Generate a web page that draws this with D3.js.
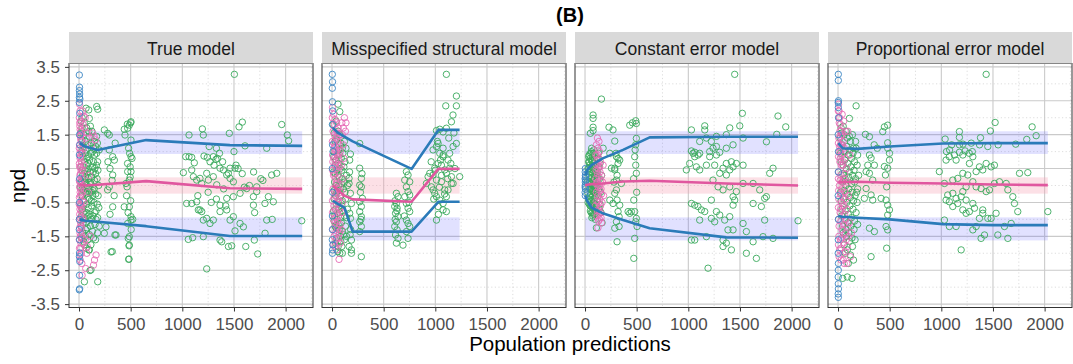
<!DOCTYPE html>
<html><head><meta charset="utf-8">
<script src="https://cdn.jsdelivr.net/npm/d3@7"></script>
<style>body{margin:0;background:#fff}svg{display:block}text{font-family:"Liberation Sans",Arial,sans-serif}</style>
</head><body><svg id="c" width="1073" height="364"></svg>
<script>
const panelTitles = ["True model","Misspecified structural model","Constant error model","Proportional error model"];
const xTicks = [0,500,1000,1500,2000];
const xMinor = [250,750,1250,1750,2250];
const yTicks = [3.5,2.5,1.5,0.5,-0.5,-1.5,-2.5,-3.5];
const yMinor = [3,2,1,0,-1,-2,-3];
const bandUpper = [0.93,1.6];
const bandMedian = [-0.24,0.24];
const bandLower = [-1.62,-0.94];

// ---- True model ----
const trueBins = [5,60,180,650,1460,2160];
const trueUpper = [1.25,1.15,1.05,1.34,1.19,1.17];
const trueMedian = [0.04,0.0,0.02,0.13,-0.08,-0.1];
const trueLower = [-1.0,-1.04,-1.07,-1.2,-1.49,-1.49];
const trueGreen = [[1504,3.28],[1581,1.87],[1549,1.73],[1962,1.8],[1194,1.67],[1065,1.49],[1203,1.49],[1455,1.54],[2016,1.49],[1500,1.0],[1607,1.17],[1817,1.1],[2029,1.32],[1033,0.85],[1065,0.85],[1091,0.83],[1116,0.67],[1210,0.87],[1242,0.83],[1268,0.7],[1300,0.85],[1326,0.77],[1307,0.6],[1010,0.38],
[1091,0.46],[1107,0.26],[1139,0.16],[1171,0.21],[1188,0.06],[1236,0.36],[1252,0.16],[1300,0.26],[1333,0.02],[1365,0.51],[1397,0.46],[1430,0.31],[1446,0.36],[1462,0.21],[1494,0.11],[1510,0.51],[1462,0.51],
[1720,-0.04],[1623,-0.09],[1720,-0.18],[1833,-0.33],[1914,0.36],[1865,0.31],[1881,-0.48],[1688,-0.58],[1800,-0.53],[1688,-0.33],[1559,-0.23],[1494,-0.33],[1430,-0.38],
[1042,-0.53],[1091,-0.53],[1139,-0.48],[1155,-0.72],[1171,-0.72],[1188,-0.77],[1203,-1.02],[1236,-0.97],[1268,-1.12],[1300,-1.02],[1365,-0.58],[1365,-0.77],[1430,-0.72],[1462,-1.02],[1494,-0.92],[1559,-1.12],[1591,-1.22],[1817,-1.02],[2156,-1.04],
[1260,1.15],[1330,1.1],[1360,0.95],[1340,0.8],[1390,0.7],[1520,0.6],[1540,0.5],[1580,0.35],[1690,0.4],[1760,0.2],[1780,0.15],[1600,-0.05],[1650,0.0],[1400,-0.1],[1250,-0.2],[1150,-0.3],[1330,-0.4],[1280,-0.5],[1420,-0.6],[1700,-0.8],[1870,-1.0],
[1058,-1.59],[1100,-1.54],[1203,-1.51],[1365,-1.61],[1381,-1.66],[1446,-1.8],[1478,-1.78],[1236,-2.46],[1510,-1.34],[1614,-1.8],[1697,-1.61],[1730,-2.02],[1801,-1.41],
[503,1.88],[487,1.78],[471,1.69],[438,1.66],[503,1.34],[468,1.81],[500,1.85],[445,1.49],[503,0.85],[513,0.8],[471,0.41],[503,0.41],[487,0.16],[455,0.06],[465,-0.04],[438,-0.63],[487,-0.63],[503,-0.92],[503,-1.02],[520,-1.0],[471,-1.12],[487,-1.51],[487,-1.76],[481,-2.18],[477,-1.56],[484,-1.78],[484,-2.17],
[300,0.5],[320,0.15],[340,-0.3],[300,-0.85],[350,1.25],[280,0.7],[480,1.1],[490,0.95],[470,0.65],[495,0.25],[460,-0.3],[500,-0.45],[475,-0.8],[505,-1.3],[495,0.55],
[293,1.49],[277,1.54],[245,1.64],[326,0.85],[342,0.75],[293,1.05],[326,0.31],[293,-0.04],[277,-0.13],[326,-0.63],[358,-1.46],[310,-1.96],[245,-1.41],[261,-1.22],[322,-1.95],[348,-1.46],
[181,2.25],[94,2.23],[100,1.98],[68,2.28],[171,2.33],[181,-2.84],[52,-2.84],[116,-2.49],[100,-1.9],[106,-2.51],
[20,1.9],[30,1.7],[45,1.5],[60,1.3],[85,1.2],[100,1.45],[120,1.25],[140,1.1],[150,0.9],[170,0.95],[180,0.7],[25,1.0],[40,0.85],[55,0.7],[70,0.6],[90,0.5],[110,0.4],[130,0.55],[160,0.35],[175,0.2],[35,0.3],[50,0.2],[65,0.1],[80,0.0],[95,-0.1],[115,0.05],[135,-0.15],[150,0.15],[190,0.0],[30,-0.3],[45,-0.45],[60,-0.2],[75,-0.55],[100,-0.4],[120,-0.6],[145,-0.5],[165,-0.75],[185,-0.3],[25,-0.9],[40,-0.8],[55,-1.0],[70,-1.1],[90,-0.9],[110,-1.2],[130,-1.35],[155,-1.15],[180,-1.4],[35,-1.4],[60,-1.5],[85,-1.6],[50,-1.75],[95,-1.9],[120,-0.2],[140,0.7],[60,0.45],[20,0.1],[30,-0.1],[85,0.85],[65,1.05],[125,1.6],[170,1.45],
[15,1.55],[28,1.35],[42,1.15],[58,0.95],[72,0.8],[88,0.65],[102,0.75],[118,0.95],[132,1.0],[148,1.3],[162,1.15],[178,1.25],[195,1.05],[18,0.55],[33,0.45],[48,0.35],[63,0.25],[78,0.4],[93,0.2],[108,0.1],[123,0.25],[138,0.4],[153,0.5],[168,0.6],[183,0.45],[12,-0.05],[27,0.05],[42,-0.15],[57,-0.05],[72,-0.25],[87,-0.35],[102,-0.2],[117,-0.45],[132,-0.3],[147,-0.1],[162,-0.25],[177,-0.55],[192,-0.65],[15,-0.6],[30,-0.7],[45,-0.6],[60,-0.85],[75,-0.8],[90,-0.65],[105,-0.85],[120,-1.0],[135,-0.9],[150,-0.8],[165,-1.0],[180,-0.95],[20,-1.2],[40,-1.1],[65,-1.3],[80,-1.25],[100,-1.45],[140,-1.55],[160,-1.6],[195,-1.2],[25,-1.55],[45,-1.65],[70,-1.85],[115,-1.75],[30,2.0],[50,1.85],[75,1.7],[95,1.6],[110,1.75]];
const truePink = [[5,2.4],[10,2.2],[15,1.9],[8,1.75],[20,1.6],[12,1.45],[25,1.3],[5,1.2],[18,1.05],[30,0.95],[10,0.8],[22,0.7],[6,0.55],[35,0.45],[14,0.35],[28,0.2],[8,0.1],[40,0.0],[16,-0.1],[24,-0.25],[4,-0.35],[32,-0.45],[12,-0.6],[20,-0.75],[7,-0.85],[36,-0.95],[15,-1.1],[26,-1.25],[9,-1.4],[30,-1.55],[18,-1.7],[5,-1.85],[22,-2.0],[12,-2.2],[30,-2.65],[130,1.55],[145,1.45],[160,1.35],[150,-2.2],[165,-2.05],[140,-2.35],[55,1.7],[70,1.4],[60,-1.6],[80,-1.8],[45,0.6],[50,-0.5],[120,1.2],[110,-1.5],[90,-0.2],[100,0.3],
[3,2.0],[7,1.85],[11,1.65],[14,1.5],[17,1.35],[3,1.1],[9,0.95],[13,0.85],[4,0.65],[16,0.55],[20,0.45],[9,0.3],[3,0.15],[19,0.05],[6,-0.05],[11,-0.2],[14,-0.3],[2,-0.55],[18,-0.55],[9,-0.7],[27,-0.65],[4,-1.0],[12,-0.95],[21,-1.2],[6,-1.25],[13,-1.5],[24,-1.45],[3,-1.6],[16,-1.85],[8,-2.05],[27,-2.3],[40,1.8],[45,1.1],[38,-1.0],[42,-1.7],[48,2.05],[35,2.2],[60,2.0],[80,1.55],[75,-2.0],[65,-2.45]];
const trueBlue = [[3,3.26],[5,2.9],[4,2.8],[6,2.7],[4,2.6],[8,2.55],[3,2.45],[7,2.13],[5,1.5],[4,0.9],[6,0.2],[5,-0.5],[4,-1.0],[6,-1.6],[5,-1.99],[4,-2.1],[7,-2.24],[5,-2.65],[6,-3.05],[3,-3.08],[8,1.2],[3,-1.3]];

// ---- Misspecified structural model ----
const misBins = [8,60,120,200,770,1030,1235];
const misUpper = [1.7,1.55,1.44,1.3,0.49,1.64,1.64];
const misMedian = [0.0,-0.15,-0.3,-0.41,-0.48,0.49,0.49];
const misLower = [-0.45,-0.55,-0.65,-1.36,-1.36,-0.48,-0.48];
const misGreen = [[1107,3.28],[1204,2.64],[1101,2.35],[1204,2.35],[1171,2.08],[1156,1.88],[1107,1.69],[1011,1.62],[1043,1.66],[1075,1.58],[1027,1.24],[1011,1.15],[1075,1.1],[1172,1.15],[1204,1.24],[978,1.05],[1075,0.9],[1139,0.95],
[946,0.36],[930,0.26],[914,0.06],[962,-0.04],[978,-0.13],[994,-0.23],[1011,-0.33],[1043,-0.43],[1027,-0.62],[1075,-0.72],[1107,-0.77],[1011,-1.02],[1059,0.11],[1091,0.46],[1107,0.36],[1139,0.51],[1156,0.26],[1172,0.06],[1123,0.75],[1075,0.85],[1043,0.95],[1027,0.65],[1059,0.6],[994,0.51],[978,0.31],[1156,0.06],[1123,-0.13],[1107,-0.33],[1075,-0.53],[1236,0.26],[1091,-0.13],[1011,0.16],[1000,0.45],[1060,0.3],[1120,0.2],[1040,-0.05],[1090,-0.25],[985,-0.4],[1030,-0.85],[1050,0.75],[1150,0.65],[960,0.7],[1190,0.5],[1020,1.3],[1130,1.4],[1180,1.55],
[623,-0.23],[639,-0.33],[623,-0.53],[607,-0.62],[630,-0.67],[615,-0.82],[639,-0.92],[623,-1.07],[607,-1.21],[630,-1.31],[615,-1.46],[639,-1.56],[623,-1.7],[720,0.41],[736,0.31],[704,0.16],[752,0.11],[720,-0.04],[736,-0.18],[752,-0.28],[704,-0.33],[720,-0.53],[736,-0.67],[752,-0.77],[720,-1.02],[736,-1.12],[752,-1.21],[720,-1.36],[736,-1.56],[687,-1.76],[610,-0.45],[628,-0.75],[612,-1.0],[745,-0.5],[700,-0.9],
[268,0.51],[284,0.21],[268,0.01],[284,-0.04],[294,-0.38],[268,-0.48],[284,-0.62],[268,-0.77],[284,-0.92],[268,-1.07],[284,-1.21],[268,-1.36],[284,-2.1],[178,-0.23],[188,-0.53],[171,-0.82],[178,-0.97],[188,-1.61],[165,-1.8],[188,-1.9],[188,-2.0],[178,0.93],[171,0.75],[165,0.21],[165,0.06],[268,1.24],[180,-1.3],[175,-1.45],[275,-0.2],[290,0.35],[280,-1.0],[170,0.4],
[58,2.4],[75,2.18],[40,1.9],[60,1.6],[30,1.3],[70,1.2],[20,1.0],[50,0.9],[90,0.8],[35,0.6],[80,0.5],[15,0.4],[55,0.3],[100,0.2],[25,0.1],[65,0.0],[110,-0.1],[45,-0.2],[85,-0.3],[20,-0.4],[60,-0.5],[95,-0.6],[35,-0.7],[75,-0.8],[120,-0.9],[50,-1.0],[90,-1.1],[30,-1.2],[70,-1.3],[110,-1.45],[45,-1.55],[85,-1.65],[60,-1.8],[100,-2.0],[130,-0.4],[140,0.3],[125,0.7],[130,-1.2],[150,-0.7],[40,0.0],[25,-0.9],[100,1.1],[75,1.5],[135,1.1],
[10,1.8],[20,1.55],[45,1.35],[65,1.05],[85,1.25],[105,0.95],[120,1.3],[15,0.85],[40,0.75],[60,0.65],[75,0.9],[95,0.45],[115,0.55],[30,0.35],[45,0.45],[70,0.25],[90,0.05],[120,0.1],[20,-0.15],[35,-0.3],[55,-0.15],[80,-0.05],[100,-0.45],[125,-0.2],[15,-0.75],[45,-0.55],[65,-0.7],[85,-0.95],[105,-0.75],[140,-0.95],[20,-1.05],[40,-1.25],[60,-1.15],[80,-1.5],[100,-1.35],[120,-1.6],[35,-1.7],[55,-1.95],[75,-2.0],[95,-1.8],[140,-1.5],[150,0.0]];
const misPink = [[5,2.3],[15,2.1],[30,1.95],[45,1.85],[60,1.7],[10,1.6],[25,1.5],[40,1.4],[55,1.3],[70,1.2],[20,1.1],[35,1.0],[50,0.9],[65,0.8],[8,0.7],[28,0.6],[45,0.5],[60,0.4],[15,0.3],[35,0.2],[50,0.1],[70,0.0],[10,-0.1],[25,-0.2],[40,-0.3],[55,-0.4],[65,-0.5],[18,-0.6],[32,-0.7],[48,-0.8],[62,-0.9],[12,-1.0],[28,-1.1],[42,-1.2],[58,-1.3],[72,-1.4],[20,-1.5],[38,-1.6],[52,-1.7],[30,-1.8],[68,-2.18],[80,1.0],[90,0.6],[85,-0.2],[95,-0.8],[100,1.5],[110,1.7],[105,0.2],[120,2.0],[135,1.85],[130,1.6],
[3,2.0],[22,1.8],[38,1.65],[50,1.55],[65,1.45],[4,1.3],[18,1.25],[32,1.15],[48,1.05],[62,0.95],[6,0.9],[22,0.8],[38,0.7],[54,0.6],[70,0.55],[5,0.45],[22,0.35],[40,0.05],[58,-0.1],[75,-0.3],[5,-0.45],[22,-0.35],[45,-0.55],[75,-0.7],[5,-0.8],[38,-0.95],[55,-1.05],[78,-1.15],[6,-1.3],[35,-1.4],[62,-1.55],[80,-1.7],[12,-1.75],[45,-1.9],[90,-1.3],[100,-0.5],[110,1.2],[95,1.85],[115,0.8]];
const misBlue = [[3,3.28],[5,3.06],[3,2.87],[4,2.47],[6,2.2],[4,1.8],[5,1.2],[3,0.5],[6,-0.2],[4,-0.9],[5,-1.3],[3,-1.6],[6,-1.9],[4,-2.0],[8,-1.75],[10,1.0]];

// ---- Constant error model ----
const conBins = [2,20,62,171,368,626,1368,2062];
const conUpper = [0.3,0.45,0.6,0.8,1.05,1.42,1.44,1.44];
const conMedian = [0.0,0.02,0.04,0.06,0.12,0.14,0.06,0.0];
const conLower = [-0.3,-0.45,-0.65,-0.82,-1.02,-1.26,-1.53,-1.54];
const conGreen = [[1449,3.28],[1030,1.64],[1159,1.76],[1159,1.64],[1401,1.7],[1498,1.76],[1523,2.13],[1868,2.05],[1943,1.73],[1856,1.51],[1756,1.29],[1110,1.3],[1175,1.4],[1272,1.45],[1368,1.5],[1433,1.2],[1530,1.4],[1368,1.1],[1272,1.15],[1223,1.3],[1030,1.02],[1062,0.98],[1110,0.95],[1207,1.0],[1239,1.1],[1304,0.98],
[981,0.46],[1013,0.65],[1046,0.95],[1062,0.85],[1078,0.55],[1094,0.9],[1110,0.46],[1175,0.6],[1207,0.85],[1255,0.6],[1272,0.9],[1304,0.36],[1336,0.51],[1368,0.65],[1401,0.46],[1417,0.7],[1433,0.55],[1465,0.65],[1530,0.6],[1368,0.31],[1239,0.16],[1288,-0.04],[1336,-0.13],[1401,-0.04],[1433,-0.33],[1465,-0.18],[1530,0.06],[1627,0.06],[1691,-0.13],[1756,-0.33],[1820,0.51],[1788,0.36],[1627,-0.53],[1707,-0.62],[1739,-0.38],[1030,-0.53],[1062,-0.58],[1094,-0.62],[1126,-0.72],[1159,-0.77],[1223,-0.43],[1272,-0.77],[1304,-0.87],[1352,-1.02],[1401,-0.92],[1433,-0.58],[1449,-0.43],[1530,-1.12],[1562,-1.36],[1433,-1.31],[1384,-1.31],[1336,-1.61],[1368,-1.7],[1417,-1.9],[1223,-0.97],[1255,-1.07],[1110,-1.02],[1030,-1.61],[1062,-1.61],[1175,-1.51],[1336,-1.8],[1191,-2.44],[1562,-2.0],[1627,-1.66],[1659,-2.15],[1723,-1.51],[2062,-1.04],[1820,-1.56],[1739,-1.02],
[288,0.51],[304,-0.13],[310,-0.43],[320,-0.77],[330,-0.92],[304,-1.07],[330,-1.21],[310,-1.66],[481,0.85],[491,0.6],[497,0.36],[472,-0.43],[481,-0.77],[497,-0.97],[491,-1.07],[504,-1.21],[481,-1.56],[472,-2.15],[449,-0.77],[417,-0.77],[433,-0.82],[288,-1.26],[232,1.72],[271,1.64],[433,1.78],[459,1.85],[491,1.91],[497,1.83],[497,1.39],[288,1.31],[300,0.95],[320,0.8],[310,0.3],[280,0.1],[490,1.2],[485,1.05],[470,0.2],[500,-0.2],[175,1.1],[240,0.95],[304,0.85],[320,0.65],[336,0.75],[288,0.46],[304,0.16],[352,0.06],[288,-0.23],[271,-0.53],[336,-0.58],[240,-0.43],[256,0.51],[159,2.55],[78,2.08],[78,1.98],[78,1.72],[78,1.62],[52,1.54],
[40,0.9],[60,1.0],[80,0.95],[50,0.8],[70,0.7],[90,0.75],[45,0.6],[65,0.55],[85,0.5],[100,0.6],[55,0.4],[75,0.35],[95,0.3],[40,0.25],[60,0.2],[80,0.15],[100,0.1],[50,0.05],[70,0.0],[90,-0.05],[45,-0.1],[65,-0.15],[85,-0.2],[55,-0.25],[75,-0.3],[95,-0.35],[40,-0.4],[60,-0.45],[80,-0.5],[100,-0.55],[50,-0.6],[70,-0.65],[90,-0.7],[60,-0.8],[80,-0.85],[75,-0.9],[120,0.4],[130,-0.3],[140,0.2],[110,-0.6],[125,0.8],[150,-0.2],[115,0.0],[135,0.55],[145,-0.55],[160,0.3],[30,0.5],[30,-0.5],[20,0.1],[35,0.7],[25,-0.2],[110,-1.25],[100,-1.0],[165,-1.1],
[35,0.85],[55,0.95],[75,0.85],[95,0.9],[110,0.8],[42,0.7],[62,0.75],[82,0.65],[102,0.45],[38,0.5],[58,0.55],[78,0.45],[98,0.4],[48,0.3],[68,0.25],[88,0.2],[108,0.3],[42,0.1],[62,0.05],[82,0.0],[102,-0.05],[38,-0.05],[58,-0.1],[78,-0.15],[98,-0.2],[48,-0.3],[68,-0.35],[88,-0.4],[108,-0.3],[42,-0.55],[62,-0.6],[82,-0.65],[102,-0.75],[52,-0.75],[72,-0.8],[92,-0.85],[66,-0.95],[86,1.05],[64,1.1],[125,0.2],[135,-0.1],[120,-0.45],[145,0.65],[130,0.95],[155,-0.8],[140,-0.7]];
const conPink = [[110,1.2],[125,1.1],[140,1.0],[120,0.9],[135,0.8],[150,0.7],[115,0.6],[130,0.5],[145,0.4],[160,0.3],[105,0.2],[120,0.1],[140,0.0],[155,-0.1],[110,-0.2],[125,-0.3],[145,-0.4],[165,-0.5],[100,-0.6],[130,-0.7],[150,-0.8],[115,-0.9],[140,-1.0],[160,-1.1],[125,-1.25],[175,0.6],[180,-0.3],[170,0.1],[135,1.3],[120,1.4],
[105,0.9],[118,0.75],[128,0.65],[142,0.55],[108,0.45],[122,0.35],[136,0.25],[150,0.15],[112,0.05],[128,-0.05],[145,-0.15],[160,-0.25],[115,-0.45],[132,-0.5],[150,-0.6],[120,-0.75],[138,-0.85],[155,-0.95],[130,-1.05]];
const conBlue = [[3,0.5],[2,0.4],[4,0.3],[1,0.2],[3,0.1],[2,0.0],[4,-0.1],[1,-0.2],[3,-0.3],[5,0.25],[2,-0.05],[6,0.15]];

// ---- Proportional error model ----
const propBins = [3,45,190,500,1016,1500,2031];
const propUpper = [1.25,1.1,1.08,1.15,1.24,1.25,1.25];
const propMedian = [0.1,0.1,0.11,0.08,0.06,0.03,0.01];
const propLower = [-0.9,-0.92,-0.95,-1.0,-1.14,-1.17,-1.17];
const propGreen = [[1434,3.28],[1521,1.86],[1475,1.61],[1879,1.73],[1918,1.47],[1175,1.59],[1175,1.42],[1037,1.37],[1379,1.41],[1827,1.36],[1100,1.2],[1175,1.2],[1210,1.22],[1290,1.25],[1370,1.2],[1450,1.15],[1550,1.2],[1720,1.22],[1050,1.0],[1080,1.05],[1175,0.98],[1230,1.02],[1270,0.95],[1300,1.0],
[981,0.41],[1046,0.75],[1078,0.85],[1127,0.9],[1143,0.75],[1208,0.9],[1272,0.65],[1305,0.85],[1337,0.41],[1369,0.55],[1401,0.46],[1434,0.65],[1482,0.55],[1514,0.6],[1030,0.06],[1111,0.16],[1159,0.21],[1208,0.36],[1256,0.31],[1305,0.11],[1337,-0.04],[1385,-0.09],[1434,-0.18],[1466,-0.13],[1514,0.06],[1563,0.11],[1628,0.06],[1644,-0.13],[1692,-0.33],[1708,-0.53],[1757,0.36],[1837,0.38],[2031,-0.77],[1740,-0.77],[1530,-0.82],[1482,-0.97],[1369,-0.97],[1401,-0.72],[1321,-0.67],[1272,-0.77],[1208,-0.72],[1159,-0.53],[1111,-0.62],[1046,-0.43],[1078,-0.48],[1143,-0.38],[1240,-0.43],[1305,-0.53],[1030,-1.02],[1078,-1.21],[1143,-1.21],[1240,-0.82],[1305,-1.31],[1337,-1.21],[1385,-1.56],[1418,-1.46],[1547,-1.46],[1611,-1.21],[1644,-1.56],[1676,-1.12],[1192,-1.9],[1192,-0.33],[1062,-0.28],[1111,-0.23],[1208,-0.18],[1240,-0.04],[1401,-0.82],[1450,-0.97],
[304,0.9],[320,0.81],[288,0.6],[352,0.6],[272,0.41],[304,0.36],[336,0.16],[272,-0.09],[320,-0.28],[336,-0.43],[255,-0.38],[417,-0.38],[465,-0.43],[481,-0.58],[498,-0.72],[481,-0.87],[304,-1.26],[352,-1.36],[320,-2.1],[465,-1.21],[481,-1.31],[471,-1.85],[449,0.56],[481,0.51],[471,-0.04],[498,0.95],[498,0.75],[481,1.1],[459,0.31],[175,2.35],[110,1.98],[481,1.78],[449,1.73],[433,1.59],[265,1.51],[304,1.44],[481,1.26],[350,1.2],[380,1.1],
[30,1.7],[60,1.5],[90,1.4],[120,1.3],[150,1.1],[40,1.2],[70,1.0],[100,0.9],[130,0.8],[160,0.7],[50,0.6],[80,0.5],[110,0.4],[140,0.3],[170,0.2],[45,0.1],[75,0.0],[105,-0.1],[135,-0.2],[165,-0.3],[55,-0.4],[85,-0.5],[115,-0.6],[145,-0.7],[175,-0.8],[35,-0.9],[65,-1.0],[95,-1.1],[125,-1.2],[155,-1.3],[50,-1.4],[80,-1.5],[110,-1.65],[140,-1.8],[70,-2.0],[100,-2.3],[45,-2.74],[90,-2.7],[135,-2.74],[190,0.9],[185,-0.5],[200,0.3],[60,0.3],[25,-0.2],
[20,1.4],[35,1.55],[50,1.75],[80,1.6],[110,1.45],[140,1.5],[170,1.3],[25,0.95],[55,1.0],[85,1.15],[115,1.05],[145,0.95],[175,1.1],[30,0.7],[65,0.75],[95,0.65],[125,0.55],[155,0.45],[185,0.6],[40,0.35],[70,0.2],[100,0.25],[130,0.05],[160,0.1],[190,-0.1],[30,-0.45],[60,-0.15],[90,-0.25],[120,-0.35],[150,-0.45],[180,-0.2],[40,-0.7],[70,-0.75],[100,-0.85],[130,-0.95],[160,-1.05],[190,-1.15],[45,-1.2],[75,-1.3],[105,-1.4],[135,-1.55],[165,-1.6],[60,-1.75],[90,-1.9],[120,-2.05],[150,-2.2]];
const propPink = [[5,2.4],[10,2.2],[15,2.0],[20,1.8],[30,1.6],[8,1.4],[40,1.5],[50,1.3],[25,1.2],[60,1.1],[12,1.0],[35,0.9],[70,0.8],[18,0.7],[45,0.6],[80,0.5],[6,0.4],[28,0.3],[55,0.2],[90,0.1],[14,0.0],[38,-0.1],[65,-0.2],[100,-0.3],[8,-0.4],[32,-0.5],[58,-0.6],[85,-0.7],[20,-0.8],[48,-0.9],[75,-1.0],[110,-1.1],[10,-1.2],[40,-1.3],[70,-1.4],[100,-1.5],[25,-1.6],[55,-1.7],[90,-1.8],[15,-1.9],[45,-2.0],[120,-2.1],[30,-2.2],[60,-2.3],[95,1.6],[130,-1.4],[115,0.9],
[3,2.2],[8,2.0],[12,1.85],[18,1.6],[25,1.45],[4,1.25],[15,1.15],[28,1.05],[42,1.2],[5,0.85],[22,0.8],[32,0.6],[50,0.7],[4,0.2],[20,0.15],[40,0.1],[65,0.35],[6,-0.15],[24,-0.25],[48,-0.35],[75,-0.4],[4,-0.65],[26,-0.7],[44,-0.6],[64,-0.85],[6,-1.0],[28,-1.05],[55,-1.15],[90,-1.2],[8,-1.5],[35,-1.55],[80,-1.6],[5,-1.75],[28,-1.85],[70,-1.95],[10,-2.1],[50,-2.2],[85,-2.3],[40,2.1],[55,1.9],[70,1.6]];
const propBlue = [[3,3.28],[3,3.1],[4,2.5],[2,2.45],[3,2.3],[5,2.0],[2,1.5],[4,1.0],[3,0.4],[2,-0.3],[4,-1.0],[3,-1.6],[2,-2.0],[4,-2.3],[3,-2.5],[2,-2.7],[3,-2.9],[4,-3.05],[2,-3.2],[3,-3.3]];

const panels = [
  {green:trueGreen,pink:truePink,blue:trueBlue,bins:trueBins,upper:trueUpper,median:trueMedian,lower:trueLower},
  {green:misGreen,pink:misPink,blue:misBlue,bins:misBins,upper:misUpper,median:misMedian,lower:misLower},
  {green:conGreen,pink:conPink,blue:conBlue,bins:conBins,upper:conUpper,median:conMedian,lower:conLower},
  {green:propGreen,pink:propPink,blue:propBlue,bins:propBins,upper:propUpper,median:propMedian,lower:propLower}
];

const svg = d3.select("#c");
const panelW = 244, panelTop = 63.5, panelBot = 307.5, stripTop = 32;
const lefts = [69, 322, 575, 828];
const x = d3.scaleLinear().domain([-97, 2265]).range([0, panelW]);
const y = d3.scaleLinear().domain([-3.6, 3.6]).range([panelBot, panelTop]);
const COL = {green:"#3aa95c", pink:"#e66cb5", blue:"#3b86c4", lineBlue:"#2b7bb9", linePink:"#e0579f"};

svg.append("rect").attr("width",1073).attr("height",364).attr("fill","#fff");

panels.forEach((p, i) => {
  const g = svg.append("g").attr("transform", `translate(${lefts[i]},0)`);
  const cid = "clip" + i;
  g.append("clipPath").attr("id", cid).append("rect")
    .attr("x", 0).attr("y", panelTop).attr("width", panelW).attr("height", panelBot - panelTop);
  const inner = g.append("g").attr("clip-path", `url(#${cid})`);
  inner.selectAll(".mh").data(yMinor).join("line")
    .attr("x1",0).attr("x2",panelW).attr("y1",d=>y(d)).attr("y2",d=>y(d))
    .attr("stroke","#d4d4d4").attr("stroke-width",0.8).attr("stroke-dasharray","1.2,2.4");
  inner.selectAll(".mv").data(xMinor).join("line")
    .attr("y1",panelTop).attr("y2",panelBot).attr("x1",d=>x(d)).attr("x2",d=>x(d))
    .attr("stroke","#d4d4d4").attr("stroke-width",0.8).attr("stroke-dasharray","1.2,2.4");
  inner.selectAll(".Mh").data(yTicks).join("line")
    .attr("x1",0).attr("x2",panelW).attr("y1",d=>y(d)).attr("y2",d=>y(d))
    .attr("stroke","#cacaca").attr("stroke-width",1.1);
  inner.selectAll(".Mv").data(xTicks).join("line")
    .attr("y1",panelTop).attr("y2",panelBot).attr("x1",d=>x(d)).attr("x2",d=>x(d))
    .attr("stroke","#cacaca").attr("stroke-width",1.1);
  const bx0 = x(p.bins[0]), bx1 = x(p.bins[p.bins.length-1]);
  [[bandUpper,"#5a5aff",0.18],[bandLower,"#5a5aff",0.18],[bandMedian,"#f7a0b3",0.33]].forEach(([b,c,o])=>{
    inner.append("rect").attr("x",bx0).attr("width",bx1-bx0)
      .attr("y",y(b[1])).attr("height",y(b[0])-y(b[1])).attr("fill",c).attr("fill-opacity",o);
  });
  [["green",p.green],["pink",p.pink],["blue",p.blue]].forEach(([k,arr])=>{
    inner.selectAll(".pt"+k).data(arr).join("circle")
      .attr("cx",d=>x(d[0])).attr("cy",d=>y(d[1])).attr("r",3.2)
      .attr("fill","none").attr("stroke",COL[k]).attr("stroke-width",0.9);
  });
  const line = d3.line().x(d=>x(d[0])).y(d=>y(d[1]));
  const mk = vals => p.bins.map((b,j)=>[b, vals[j]]);
  inner.append("path").attr("d",line(mk(p.upper))).attr("fill","none").attr("stroke",COL.lineBlue).attr("stroke-width",2.6).attr("stroke-linejoin","round");
  inner.append("path").attr("d",line(mk(p.lower))).attr("fill","none").attr("stroke",COL.lineBlue).attr("stroke-width",2.6).attr("stroke-linejoin","round");
  inner.append("path").attr("d",line(mk(p.median))).attr("fill","none").attr("stroke",COL.linePink).attr("stroke-width",2.6).attr("stroke-linejoin","round");
  g.append("rect").attr("x",0).attr("y",panelTop).attr("width",panelW).attr("height",panelBot-panelTop)
    .attr("fill","none").attr("stroke","#333").attr("stroke-width",1);
  g.append("rect").attr("x",0).attr("y",stripTop).attr("width",panelW).attr("height",panelTop-stripTop)
    .attr("fill","#d9d9d9");
  g.append("text").attr("x",panelW/2).attr("y",55).attr("text-anchor","middle")
    .attr("font-size",17.5).attr("fill","#1a1a1a").text(panelTitles[i]);
  const xa = g.append("g").attr("transform",`translate(0,${panelBot})`)
    .call(d3.axisBottom(x).tickValues(xTicks).tickSize(4).tickPadding(6).tickFormat(d3.format("d")));
  xa.select(".domain").remove();
  xa.selectAll("line").attr("stroke","#333");
  xa.selectAll("text").attr("font-size",17).attr("fill","#4d4d4d").attr("font-family","Liberation Sans, Arial, sans-serif");
  if (i === 0) {
    const ya = g.append("g").call(d3.axisLeft(y).tickValues(yTicks).tickSize(4).tickPadding(5).tickFormat(d=>d.toFixed(1)));
    ya.select(".domain").remove();
    ya.selectAll("line").attr("stroke","#333");
    ya.selectAll("text").attr("font-size",17).attr("fill","#4d4d4d").attr("font-family","Liberation Sans, Arial, sans-serif");
  }
});

svg.append("text").attr("x",570).attr("y",22).attr("text-anchor","middle")
  .attr("font-size",20).attr("font-weight","bold").attr("fill","#000").text("(B)");
svg.append("text").attr("x",570).attr("y",351).attr("text-anchor","middle")
  .attr("font-size",20.5).attr("fill","#000").text("Population predictions");
svg.append("text").attr("transform","translate(25,186) rotate(-90)").attr("text-anchor","middle")
  .attr("font-size",20.5).attr("fill","#000").text("npd");
</script></body></html>
